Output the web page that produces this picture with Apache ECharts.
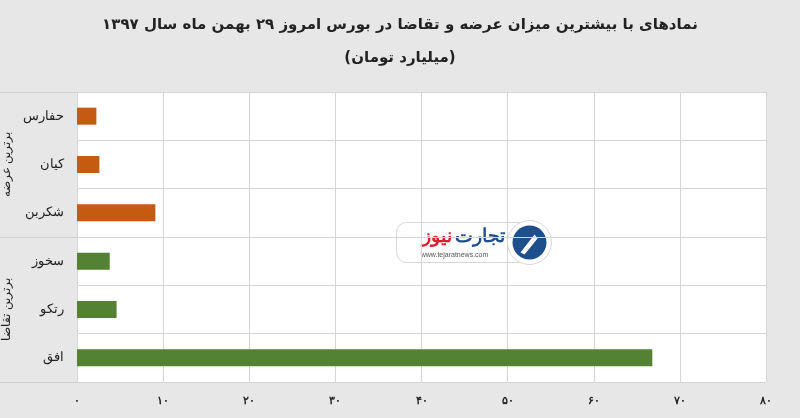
<!DOCTYPE html>
<html>
<head>
<meta charset="utf-8">
<script src="https://cdn.jsdelivr.net/npm/echarts@6/dist/echarts.min.js"></script>
<style>html,body{margin:0;padding:0;background:#e7e7e7;}#c{width:800px;height:418px;}</style>
</head>
<body>
<div id="c"></div>
<script>
// ---- data ----
const titleLine1 = 'نمادهای با بیشترین میزان عرضه و تقاضا در بورس امروز ۲۹ بهمن ماه سال ۱۳۹۷';
const titleLine2 = '(میلیارد تومان)';
const categories = ['حفارس', 'کیان', 'شکربن', 'سخوز', 'رتکو', 'افق'];
const values = [2.25, 2.6, 9.1, 3.8, 4.6, 66.8];
const groupOf = [0, 0, 0, 1, 1, 1];
const groups = ['برترین عرضه', 'برترین تقاضا'];
const xTicks = { min: 0, max: 80, interval: 10 };

const groupColors = ['#c55a11', '#548235'];
const fa = s => String(s).replace(/\d/g, d => '۰۱۲۳۴۵۶۷۸۹'[d]);

const chart = echarts.init(document.getElementById('c'));
chart.setOption({
  backgroundColor: '#e7e7e7',
  title: [
    { text: titleLine1, left: 'center', top: 13, textStyle: { fontFamily: 'DejaVu Sans', fontSize: 15, fontWeight: 'bold', color: '#222' } },
    { text: titleLine2, left: 'center', top: 46, textStyle: { fontFamily: 'DejaVu Sans', fontSize: 15, fontWeight: 'bold', color: '#222' } }
  ],
  grid: { left: 77, right: 34, top: 92, bottom: 36, show: true, backgroundColor: '#ffffff', borderWidth: 0 },
  xAxis: {
    type: 'value', min: xTicks.min, max: xTicks.max, interval: xTicks.interval,
    axisLine: { show: false }, axisTick: { show: false },
    splitLine: { show: true, lineStyle: { color: '#d6d6d6', width: 1 } },
    axisLabel: { formatter: v => fa(v), color: '#222', fontSize: 11, fontWeight: 'bold', margin: 13 }
  },
  yAxis: [
    {
      type: 'category', data: categories, inverse: true,
      axisLine: { show: false }, axisTick: { show: false },
      splitLine: { show: true, lineStyle: { color: '#d6d6d6', width: 1 } },
      axisLabel: { color: '#222', fontSize: 13, margin: 13 }
    },
    {
      type: 'category', data: groups, inverse: true, position: 'left',
      axisLine: { show: false },
      axisTick: { show: true, length: 77, lineStyle: { color: '#d0d0d0', width: 1 } },
      splitLine: { show: false },
      axisLabel: { rotate: 90, color: '#222', fontSize: 12, margin: 64 }
    }
  ],
  series: [
    {
      type: 'bar', yAxisIndex: 0, barWidth: 17,
      data: values.map((v, i) => ({ value: v, itemStyle: { color: groupColors[groupOf[i]] } }))
    }
  ],
  graphic: [
    {
      type: 'group', left: 396, top: 220, silent: true,
      children: [
        { type: 'rect', shape: { x: 0, y: 0, width: 140, height: 40, r: 10 }, style: { fill: '#ffffff', stroke: '#d8d8d8', lineWidth: 1 } },
        { type: 'circle', shape: { cx: 133, cy: 20, r: 22 }, style: { fill: '#ffffff', stroke: '#d8d8d8', lineWidth: 1 } },
        { type: 'circle', shape: { cx: 133, cy: 20, r: 17 }, style: { fill: '#1f4e8c' } },
        { type: 'polygon', shape: { points: [[124, 30], [138, 12], [141, 16], [128, 32]] }, style: { fill: '#ffffff' } },
        { type: 'text', style: { x: 108, y: 5, text: 'تجارت', fill: '#1f4e8c', font: 'bold 19px sans-serif', align: 'right' } },
        { type: 'text', style: { x: 55, y: 5, text: 'نیوز', fill: '#d7202f', font: 'bold 19px sans-serif', align: 'right' } },
        { type: 'text', style: { x: 58, y: 29, text: 'www.tejaratnews.com', fill: '#555', font: '7px sans-serif', align: 'center' } }
      ]
    }
  ]
});
</script>
</body>
</html>
